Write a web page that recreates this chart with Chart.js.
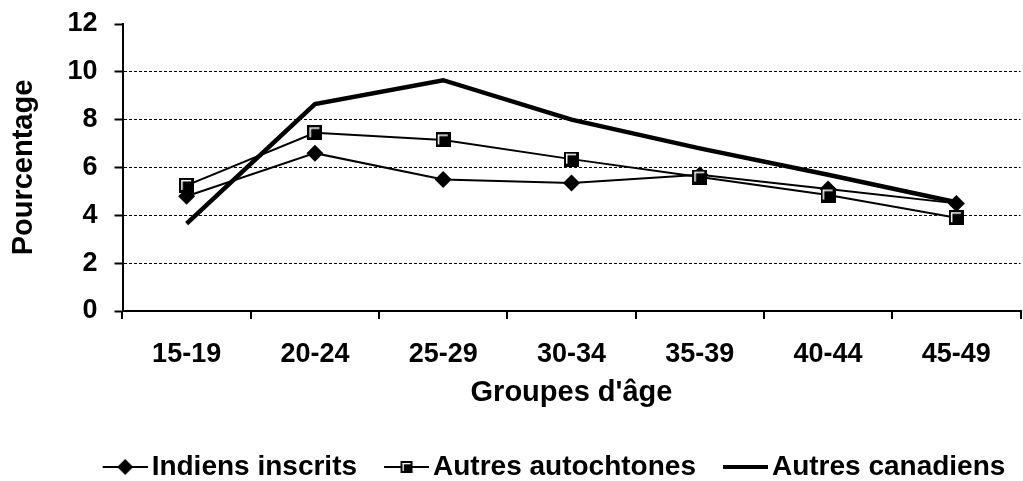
<!DOCTYPE html>
<html>
<head>
<meta charset="utf-8">
<script src="https://cdn.jsdelivr.net/npm/chart.js@4/dist/chart.umd.min.js"></script>
<style>
html,body{margin:0;padding:0;background:#fff;overflow:hidden;}
#wrap{position:relative;width:1030px;height:491px;}
</style>
</head>
<body>
<div id="wrap"><canvas id="c"></canvas></div>
<script>
const categories = ['15-19','20-24','25-29','30-34','35-39','40-44','45-49'];
const indiensInscrits = [4.8, 6.6, 5.5, 5.35, 5.7, 5.1, 4.5];
const autresAutochtones = [5.25, 7.45, 7.15, 6.35, 5.6, 4.85, 3.9];
const autresCanadiens = [3.65, 8.65, 9.65, 8.0, 6.8, 5.7, 4.55];
const seriesNames = ['Indiens inscrits','Autres autochtones','Autres canadiens'];
const yTicks = [0,2,4,6,8,10,12];

function squareMarker(){
  const c = document.createElement('canvas'); c.width = 15; c.height = 15;
  const x = c.getContext('2d');
  x.fillStyle = '#000'; x.fillRect(0,0,15,15);
  x.fillStyle = '#fff';
  x.fillRect(2,2,10,1.5); x.fillRect(2,2,1.5,10);
  return c;
}
function legendIcon(kind){
  const W = 70, H = 18;
  const c = document.createElement('canvas'); c.width = W; c.height = H;
  const x = c.getContext('2d');
  x.strokeStyle = '#000';
  const cy = H/2, cx = 47.5;
  if (kind === 'thick') {
    x.lineWidth = 4; x.beginPath(); x.moveTo(25,cy); x.lineTo(70,cy); x.stroke();
  } else {
    x.lineWidth = 2; x.beginPath(); x.moveTo(25,cy); x.lineTo(70,cy); x.stroke();
    if (kind === 'diamond') {
      x.fillStyle = '#000'; x.beginPath();
      x.moveTo(cx,cy-8); x.lineTo(cx+8,cy); x.lineTo(cx,cy+8); x.lineTo(cx-8,cy); x.closePath(); x.fill();
    } else {
      x.fillStyle = '#000'; x.fillRect(cx-6,cy-6,12,12);
      x.fillStyle = '#fff'; x.fillRect(cx-4,cy-4,8,1.3); x.fillRect(cx-4,cy-4,1.3,8);
    }
  }
  return c;
}
const sq = squareMarker();
const icons = [legendIcon('diamond'), legendIcon('square'), legendIcon('thick')];

const FONT = "'Liberation Sans', Arial, sans-serif";

const legendShift = {
  id: 'legendShift',
  afterLayout(chart) {
    const lg = chart.legend;
    if (!lg) return;
    const dx = 32, top = 441;
    const h = lg.bottom - lg.top;
    lg.left += dx; lg.right += dx;
    lg.top = top; lg.bottom = top + h;
  }
};

new Chart(document.getElementById('c'), {
  type: 'line',
  data: {
    labels: categories,
    datasets: [
      { label: seriesNames[0], data: indiensInscrits, borderColor:'#000', backgroundColor:'#000',
        borderWidth: 2, pointStyle: 'rectRot', pointRadius: 8.5, pointBorderWidth: 0,
        pointBackgroundColor:'#000', tension: 0, order: 1 },
      { label: seriesNames[1], data: autresAutochtones, borderColor:'#000', backgroundColor:'#000',
        borderWidth: 2, pointStyle: sq, pointRadius: 7.5, tension: 0, order: 0 },
      { label: seriesNames[2], data: autresCanadiens, borderColor:'#000', backgroundColor:'#000',
        borderWidth: 4.5, pointRadius: 0, tension: 0, order: 2 }
    ]
  },
  plugins: [legendShift],
  options: {
    responsive: true, maintainAspectRatio: false, animation: false,
    devicePixelRatio: 1,
    layout: { padding: { top: 24, right: 1, left: 0, bottom: 0 } },
    plugins: {
      tooltip: { enabled: false },
      legend: {
        position: 'bottom',
        labels: {
          color: '#000',
          font: { family: FONT, size: 28, weight: 'bold' },
          usePointStyle: true,
          pointStyleWidth: 50,
          padding: 12,
          generateLabels: (chart) => seriesNames.map((n,i) => ({
            text: n, pointStyle: icons[i], fillStyle:'#000', strokeStyle:'#000',
            lineWidth: 0, hidden: false, datasetIndex: i, fontColor: '#000'
          }))
        }
      }
    },
    scales: {
      x: {
        type: 'category',
        offset: true,
        grid: { offset: true, drawOnChartArea: false, drawTicks: true, tickLength: 8, color: '#000', lineWidth: 2 },
        border: { display: true, color: '#000', width: 2 },
        ticks: { color: '#000', font: { family: FONT, size: 27, weight: 'bold' }, padding: 19, maxRotation: 0, autoSkip: false },
        title: { display: true, text: "Groupes d'âge", color: '#000',
                 font: { family: FONT, size: 29, weight: 'bold' }, padding: { top: 0, bottom: 31 } },
        afterFit: (s) => { s.height = 130; s.paddingLeft = 0; s.paddingRight = 0; }
      },
      y: {
        min: 0, max: 12,
        afterBuildTicks: (s) => { s.ticks = yTicks.map(v => ({ value: v })); },
        grid: {
          drawOnChartArea: true, drawTicks: true, tickLength: 8,
          color: (ctx) => (ctx.tick && ctx.tick.value > 0 && ctx.tick.value < 12) ? '#000' : 'rgba(0,0,0,0)',
          tickColor: '#000', lineWidth: 1, tickWidth: 2
        },
        border: { display: true, color: '#000', width: 2, dash: [3, 2] },
        ticks: { color: '#000', font: { family: FONT, size: 27, weight: 'bold' }, padding: 17 },
        title: { display: true, text: 'Pourcentage', color: '#000',
                 font: { family: FONT, size: 29, weight: 'bold' }, padding: { top: 7, bottom: 0 } },
        afterFit: (s) => { s.width = 122.5; s.paddingTop = 0; s.paddingBottom = 0; }
      }
    }
  }
});
</script>
</body>
</html>
